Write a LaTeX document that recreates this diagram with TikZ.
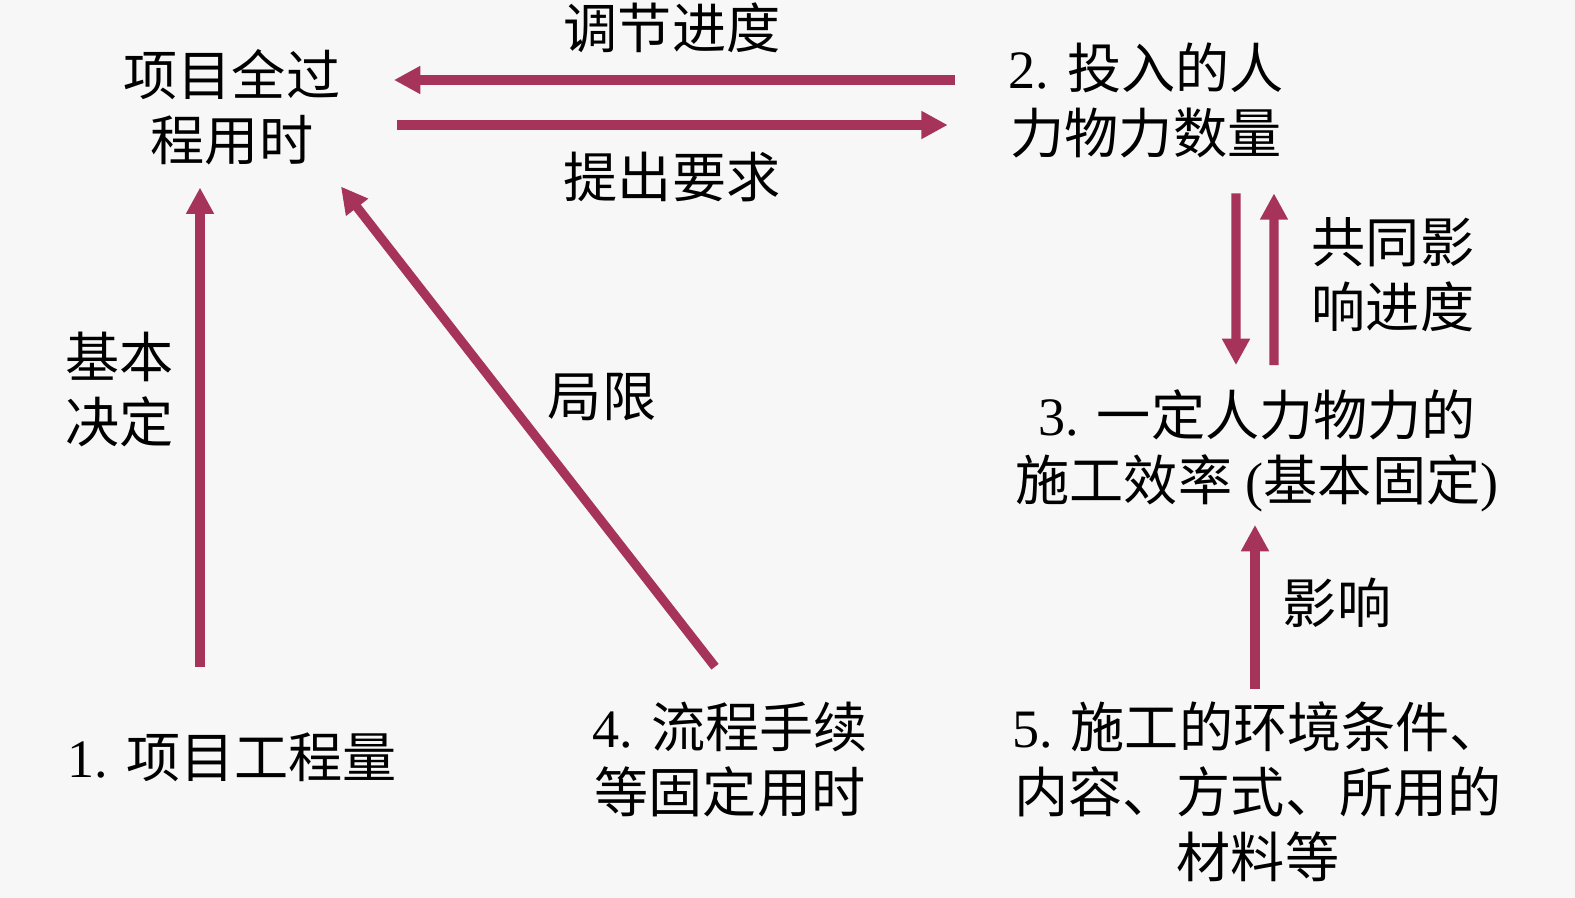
\documentclass[tikz,border=0pt]{standalone}
\usepackage{fontspec}
\setmainfont{Liberation Serif}
\newfontfamily\cjk{Noto Sans CJK SC}
\usetikzlibrary{arrows.meta}
\definecolor{bgray}{RGB}{247,247,247}
\definecolor{berry}{RGB}{166,52,90}
\newcommand\lat[1]{{\rmfamily #1}}
\begin{document}
\begin{tikzpicture}[
        factor/.style={inner sep=0pt, align=center, font=\cjk\fontsize{15.4}{18.5}\selectfont},
        note/.style={inner sep=0pt, align=center, font=\cjk\fontsize{15.4}{18.5}\selectfont},
        arrow/.style={-{Triangle[length=7.5pt,width=7.5pt]}, line width=2.6pt, draw=berry}
    ]
    \fill[bgray] (0,0) rectangle (15.75,-8.98);
    \useasboundingbox (0,0) rectangle (15.75,-8.98);
    % factors
    \node[factor] (total) at (2.32,-1.07) {项目全过\\程用时};
    \node[factor] (input) at (11.46,-1.00) {\lat{2. }投入的人\\力物力数量};
    \node[factor] (rate) at (12.57,-4.51) {\lat{3. }一定人力物力的\\施工效率\lat{ (}基本固定\lat{)}};
    \node[factor] (work) at (2.32,-7.57) {\lat{1. }项目工程量};
    \node[factor] (fixed) at (7.30,-7.60) {\lat{4. }流程手续\\等固定用时};
    \node[factor] (env) at (12.58,-7.92) {\lat{5. }施工的环境条件、\\内容、方式、所用的\\材料等};
    % arrows
    \draw[arrow] ([shift={(-0.53,0.20)}]input.west) -- ([shift={(0.53,0.27)}]total.east);
    \draw[arrow] ([shift={(0.56,-0.18)}]total.east) -- ([shift={(-0.60,-0.25)}]input.west);
    \draw[arrow] ([shift={(-0.32,0.65)}]work.north) -- ([shift={(-0.32,-0.22)}]total.south);
    \draw[arrow] ([shift={(-0.15,0.35)}]fixed.north) -- ([shift={(0,-0.21)}]total.south east);
    \draw[arrow] ([shift={(0.90,-0.35)}]input.south) -- ([shift={(-0.21,0.24)}]rate.north);
    \draw[arrow] ([shift={(0.17,0.24)}]rate.north) -- ([shift={(1.28,-0.35)}]input.south);
    \draw[arrow] ([shift={(-0.03,0.12)}]env.north) -- ([shift={(-0.02,-0.12)}]rate.south);
    % labels
    \node[note] (adjust) at (6.72,-0.28) {调节进度};
    \node[note] (demand) at (6.72,-1.77) {提出要求};
    \node[note] (decide) at (1.20,-3.90) {基本\\决定};
    \node[note] (limit) at (6.02,-3.97) {局限};
    \node[note] (joint) at (13.93,-2.75) {共同影\\响进度};
    \node[note] (affect) at (13.37,-6.03) {影响};
\end{tikzpicture}
\end{document}
